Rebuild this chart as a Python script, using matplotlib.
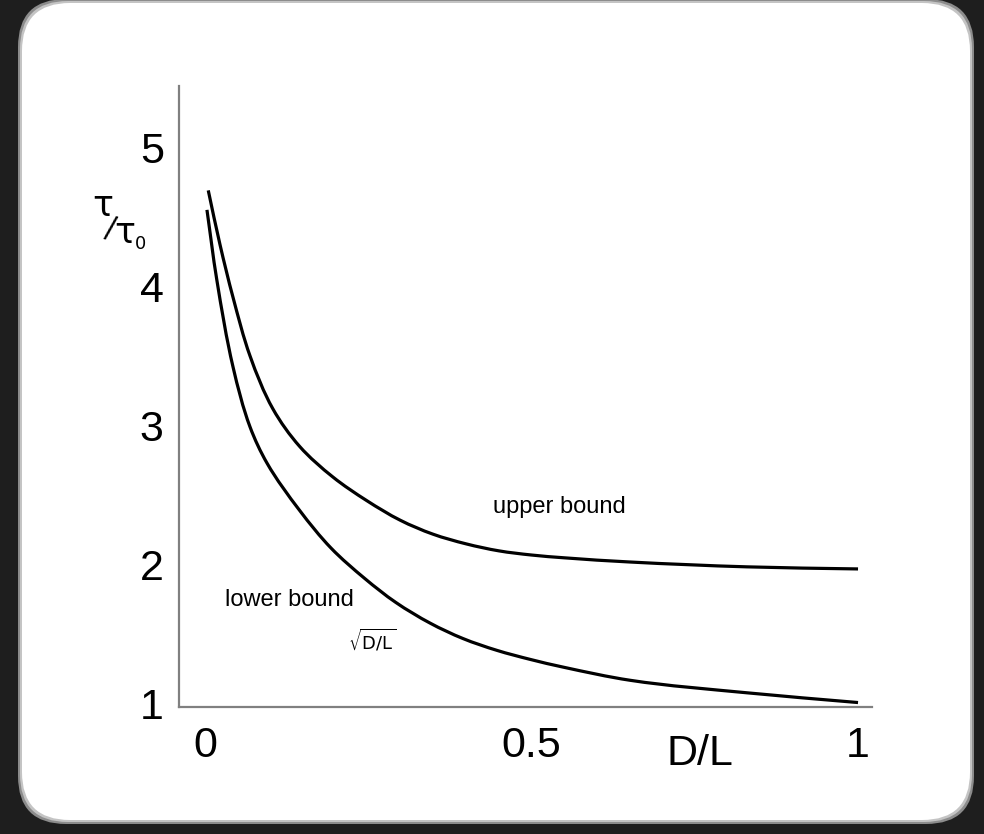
import numpy as np
import matplotlib
matplotlib.use("Agg")
import matplotlib.pyplot as plt
from matplotlib.patches import FancyBboxPatch, PathPatch
from matplotlib.path import Path

# curve readings, tau/tau0 against D/L
upper_x = [0.005, 0.023, 0.043, 0.069, 0.104, 0.145, 0.196, 0.248, 0.299, 0.349,
           0.40, 0.45, 0.50, 0.55, 0.65, 0.83, 1.0]
upper_y = [4.69, 4.30, 3.92, 3.50, 3.12, 2.85, 2.63, 2.46, 2.32, 2.22,
           2.15, 2.10, 2.07, 2.05, 2.02, 1.985, 1.97]

lower_x = [0.003, 0.018, 0.043, 0.069, 0.095, 0.145, 0.193, 0.245, 0.292,
           0.345, 0.395, 0.447, 0.498, 0.548, 0.651, 0.83, 1.0]
lower_y = [4.55, 4.05, 3.42, 2.99, 2.73, 2.39, 2.12, 1.90, 1.73,
           1.58, 1.47, 1.385, 1.32, 1.265, 1.17, 1.08, 1.01]

x_ticks = [0, 0.5, 1]
x_tick_labels = ["0", "0.5", "1"]
y_ticks = [1, 2, 3, 4, 5]
y_tick_labels = ["1", "2", "3", "4", "5"]


def smooth_path(xs, ys, sx=653.0, sy=139.2):
    # bezier path through the read points (tangents taken in screen-like units)
    p = np.column_stack([np.asarray(xs) * sx, np.asarray(ys) * sy])
    n = len(p)
    seg = np.linalg.norm(np.diff(p, axis=0), axis=1)
    tang = np.zeros_like(p)
    for i in range(n):
        if i == 0:
            d = p[1] - p[0]
        elif i == n - 1:
            d = p[-1] - p[-2]
        else:
            d = (p[i + 1] - p[i]) / seg[i] + (p[i] - p[i - 1]) / seg[i - 1]
        tang[i] = d / np.linalg.norm(d)
    verts = [p[0]]
    codes = [Path.MOVETO]
    for i in range(n - 1):
        h = seg[i] / 3.0
        verts += [p[i] + tang[i] * h, p[i + 1] - tang[i + 1] * h, p[i + 1]]
        codes += [Path.CURVE4] * 3
    verts = np.array(verts) / [sx, sy]
    return Path(verts, codes)


W, H = 984, 834
fig = plt.figure(figsize=(W / 100, H / 100), dpi=100)
fig.patch.set_facecolor("#1e1e1e")

# background layer in pixel units (for the rounded white card)
bg = fig.add_axes([0, 0, 1, 1])
bg.set_xlim(0, W)
bg.set_ylim(H, 0)
bg.axis("off")
r = 48
x0, y0, x1, y1 = 22, 3, 970, 820
for pad, col in [(4, "#8c8c8c"), (2, "#c4c4c4"), (0, "white")]:
    card = FancyBboxPatch((x0 + r - pad, y0 + r - pad),
                          (x1 - x0) - 2 * r + 2 * pad, (y1 - y0) - 2 * r + 2 * pad,
                          boxstyle="round,pad=%d" % r, fc=col, ec="none")
    bg.add_patch(card)

# main plot
ax = fig.add_axes([179 / W, 1 - 707 / H, (872 - 179) / W, (707 - 86) / H])
ax.patch.set_alpha(0)
for xs, ys in [(upper_x, upper_y), (lower_x, lower_y)]:
    ax.add_patch(PathPatch(smooth_path(xs, ys), fc="none", ec="black",
                           lw=2.3, capstyle="butt", joinstyle="round"))
ax.set_xlim(-0.0398, 1.0214)
ax.set_ylim(0.978, 5.44)

for s in ["top", "right"]:
    ax.spines[s].set_visible(False)
for s in ["left", "bottom"]:
    ax.spines[s].set_color("#808080")
    ax.spines[s].set_linewidth(1.6)

font = "Liberation Sans"
ax.set_xticks(x_ticks)
ax.set_xticklabels(x_tick_labels, fontsize=31, family=font)
ax.set_yticks(y_ticks)
ax.set_yticklabels(y_tick_labels, fontsize=31, family=font)
ax.tick_params(axis="both", length=0)
ax.tick_params(axis="x", pad=14)
ax.tick_params(axis="y", pad=11)

ax.text(0.542, 2.415, "upper bound", fontsize=17, family=font, ha="center", va="center")
ax.text(0.129, 1.75, "lower bound", fontsize=17, family=font, ha="center", va="center")
plt.rcParams["mathtext.fontset"] = "dejavusans"
ax.text(0.256, 1.46, r"$\sqrt{\mathsf{D/L}}$", fontsize=13, ha="center", va="center")

# axis labels drawn in pixel space to match the hand layout
bg.text(700, 754, "D/L", fontsize=31, family=font, ha="center", va="center")
bg.text(103, 206, "τ", fontsize=25, ha="center", va="center")
bg.text(110, 229, "/", fontsize=22, rotation=-12, ha="center", va="center")
bg.text(125, 233, "τ", fontsize=25, ha="center", va="center")
bg.text(141, 244, "0", fontsize=13, ha="center", va="center")

fig.savefig("out.png", dpi=100, facecolor=fig.get_facecolor())
